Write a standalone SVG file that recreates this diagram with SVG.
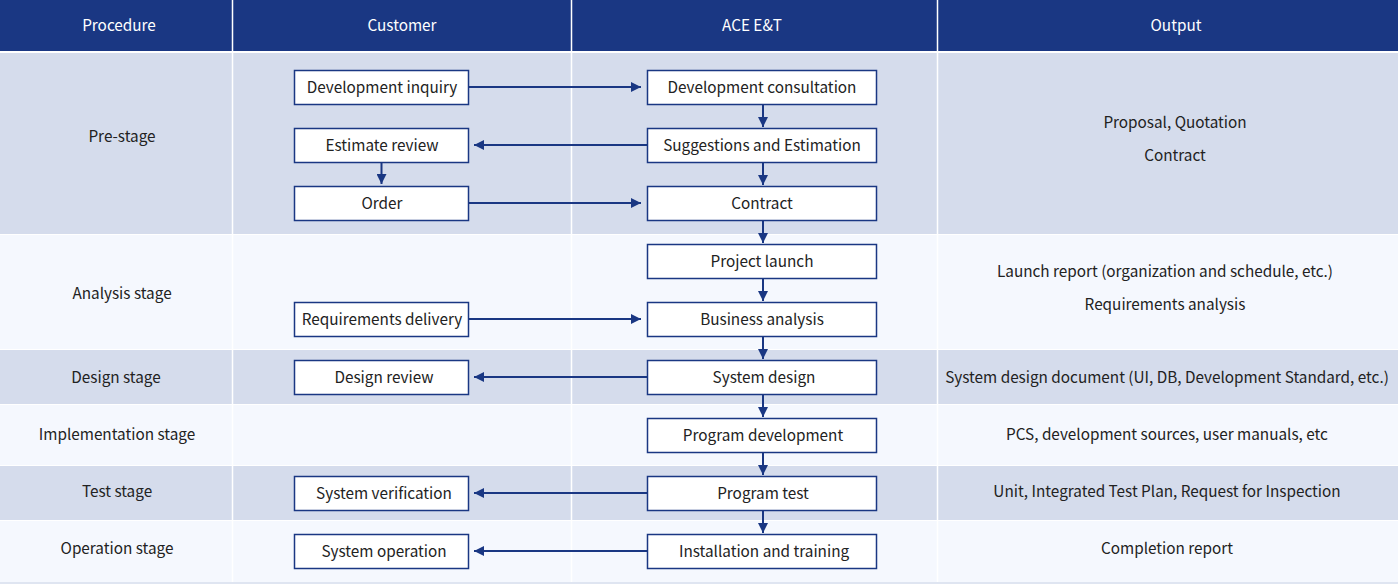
<svg xmlns="http://www.w3.org/2000/svg" width="1398" height="584" viewBox="0 0 1398 584">
<defs>
<style>
text{font-family:"Noto Sans CJK KR","Noto Sans",sans-serif;font-size:15.3px;fill:#222;text-anchor:middle;dominant-baseline:central}
.hd{fill:#fff}
.box{fill:#fff;stroke:#1a3783;stroke-width:1.5}
.cn{stroke:#1a3783;stroke-width:2;fill:none}
.dk{fill:#d5dcec}
.lt{fill:#f5f8fe}
.sep{stroke:#fff;stroke-width:1.5}
</style>
<marker id="ah" viewBox="0 0 10 10" refX="10" refY="5" markerWidth="10" markerHeight="10" markerUnits="userSpaceOnUse" orient="auto">
<path d="M0,0 L10,5 L0,10 z" fill="#1a3783"/>
</marker>
</defs>
<rect width="1398" height="584" fill="#fff"/>
<g id="header">
<rect x="0" y="0" width="1398" height="51" fill="#1a3783"/>
<text class="hd" x="119" y="24">Procedure</text>
<text class="hd" x="402" y="24">Customer</text>
<text class="hd" x="752" y="24">ACE E&amp;T</text>
<text class="hd" x="1176" y="24">Output</text>
</g>
<g id="rows">
<rect class="dk" x="0" y="53" width="1398" height="181"/>
<rect class="lt" x="0" y="235" width="1398" height="114"/>
<rect class="dk" x="0" y="350" width="1398" height="54"/>
<rect class="lt" x="0" y="405" width="1398" height="60"/>
<rect class="dk" x="0" y="466" width="1398" height="54"/>
<rect class="lt" x="0" y="521" width="1398" height="61"/>
<line class="sep" x1="232.5" y1="0" x2="232.5" y2="584"/>
<line class="sep" x1="571.5" y1="0" x2="571.5" y2="584"/>
<line class="sep" x1="937.5" y1="0" x2="937.5" y2="584"/>
<line x1="0" y1="583" x2="1398" y2="583" stroke="#d5dcec" stroke-width="1.5"/>
</g>
<g id="procedure">
<text x="122" y="135">Pre-stage</text>
<text x="122" y="292">Analysis stage</text>
<text x="116" y="376">Design stage</text>
<text x="117" y="433">Implementation stage</text>
<text x="117" y="490">Test stage</text>
<text x="117" y="547">Operation stage</text>
</g>
<g id="output">
<text x="1175" y="121">Proposal, Quotation</text>
<text x="1175" y="154">Contract</text>
<text x="1165" y="270">Launch report (organization and schedule, etc.)</text>
<text x="1165" y="303">Requirements analysis</text>
<text x="1167" y="376">System design document (UI, DB, Development Standard, etc.)</text>
<text x="1167" y="433">PCS, development sources, user manuals, etc</text>
<text x="1167" y="490">Unit, Integrated Test Plan, Request for Inspection</text>
<text x="1167" y="547">Completion report</text>
</g>
<g id="connectors">
<line class="cn" x1="468" y1="87" x2="641" y2="87" marker-end="url(#ah)"/>
<line class="cn" x1="647" y1="145" x2="474" y2="145" marker-end="url(#ah)"/>
<line class="cn" x1="468" y1="203" x2="641" y2="203" marker-end="url(#ah)"/>
<line class="cn" x1="468" y1="319" x2="641" y2="319" marker-end="url(#ah)"/>
<line class="cn" x1="647" y1="377" x2="474" y2="377" marker-end="url(#ah)"/>
<line class="cn" x1="647" y1="493" x2="474" y2="493" marker-end="url(#ah)"/>
<line class="cn" x1="647" y1="551" x2="474" y2="551" marker-end="url(#ah)"/>
<line class="cn" x1="381.5" y1="162" x2="381.5" y2="184" marker-end="url(#ah)"/>
<line class="cn" x1="763" y1="104" x2="763" y2="127" marker-end="url(#ah)"/>
<line class="cn" x1="763" y1="162" x2="763" y2="185" marker-end="url(#ah)"/>
<line class="cn" x1="763" y1="220" x2="763" y2="243" marker-end="url(#ah)"/>
<line class="cn" x1="763" y1="278" x2="763" y2="301" marker-end="url(#ah)"/>
<line class="cn" x1="763" y1="336" x2="763" y2="359" marker-end="url(#ah)"/>
<line class="cn" x1="763" y1="394" x2="763" y2="417" marker-end="url(#ah)"/>
<line class="cn" x1="763" y1="452" x2="763" y2="475" marker-end="url(#ah)"/>
<line class="cn" x1="763" y1="510" x2="763" y2="533" marker-end="url(#ah)"/>
</g>
<g id="n-dev-inquiry"><rect class="box" x="294.5" y="70.5" width="174" height="34"/><text x="382" y="86">Development inquiry</text></g>
<g id="n-estimate-review"><rect class="box" x="294.5" y="128.5" width="174" height="34"/><text x="382" y="144">Estimate review</text></g>
<g id="n-order"><rect class="box" x="294.5" y="186.5" width="174" height="34"/><text x="382" y="202">Order</text></g>
<g id="n-req-delivery"><rect class="box" x="294.5" y="302.5" width="174" height="34"/><text x="382" y="318">Requirements delivery</text></g>
<g id="n-design-review"><rect class="box" x="294.5" y="360.5" width="174" height="34"/><text x="384" y="376">Design review</text></g>
<g id="n-sys-verification"><rect class="box" x="294.5" y="476.5" width="174" height="34"/><text x="384" y="492">System verification</text></g>
<g id="n-sys-operation"><rect class="box" x="294.5" y="534.5" width="174" height="34"/><text x="384" y="550">System operation</text></g>
<g id="n-dev-consult"><rect class="box" x="647.5" y="70.5" width="229" height="34"/><text x="762" y="86">Development consultation</text></g>
<g id="n-suggestions"><rect class="box" x="647.5" y="128.5" width="229" height="34"/><text x="762" y="144">Suggestions and Estimation</text></g>
<g id="n-contract"><rect class="box" x="647.5" y="186.5" width="229" height="34"/><text x="762" y="202">Contract</text></g>
<g id="n-launch"><rect class="box" x="647.5" y="244.5" width="229" height="34"/><text x="762" y="260">Project launch</text></g>
<g id="n-business"><rect class="box" x="647.5" y="302.5" width="229" height="34"/><text x="762" y="318">Business analysis</text></g>
<g id="n-sys-design"><rect class="box" x="647.5" y="360.5" width="229" height="34"/><text x="764" y="376">System design</text></g>
<g id="n-prog-dev"><rect class="box" x="647.5" y="418.5" width="229" height="34"/><text x="763" y="434">Program development</text></g>
<g id="n-prog-test"><rect class="box" x="647.5" y="476.5" width="229" height="34"/><text x="763" y="492">Program test</text></g>
<g id="n-install"><rect class="box" x="647.5" y="534.5" width="229" height="34"/><text x="764" y="550">Installation and training</text></g>
</svg>
